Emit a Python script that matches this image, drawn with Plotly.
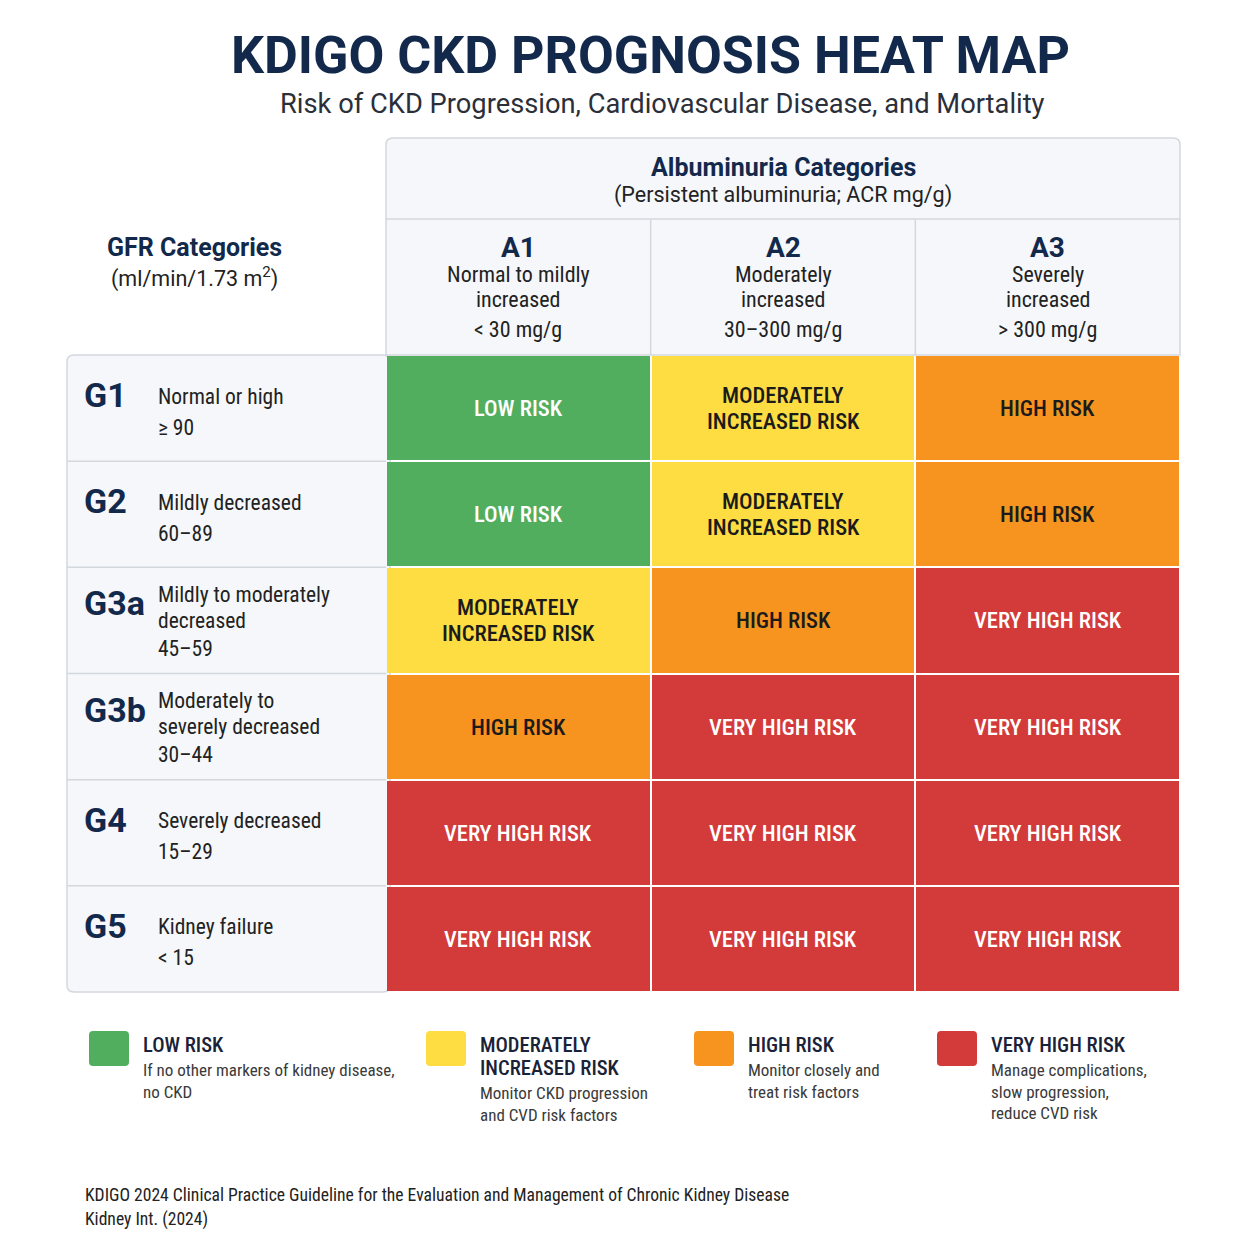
import plotly.graph_objects as go

W = H = 1254

# ---------------- data ----------------
gfr_codes = ["G1", "G2", "G3a", "G3b", "G4", "G5"]
gfr_desc = [
    ["Normal or high", "≥ 90"],
    ["Mildly decreased", "60–89"],
    ["Mildly to moderately", "decreased", "45–59"],
    ["Moderately to", "severely decreased", "30–44"],
    ["Severely decreased", "15–29"],
    ["Kidney failure", "< 15"],
]
alb_codes = ["A1", "A2", "A3"]
alb_desc = [["Normal to mildly", "increased"], ["Moderately", "increased"], ["Severely", "increased"]]
alb_range = ["< 30 mg/g", "30–300 mg/g", "> 300 mg/g"]

risk_levels = ["LOW RISK", "MODERATELY INCREASED RISK", "HIGH RISK", "VERY HIGH RISK"]
risk_label_lines = [["LOW RISK"], ["MODERATELY", "INCREASED RISK"], ["HIGH RISK"], ["VERY HIGH RISK"]]
risk_colors = ["#52AE5F", "#FDDD42", "#F7941F", "#D33B3B"]
risk_text_colors = ["#FFFFFF", "#1B1B1B", "#1B1B1B", "#FFFFFF"]
legend_notes = [
    ["If no other markers of kidney disease,", "no CKD"],
    ["Monitor CKD progression", "and CVD risk factors"],
    ["Monitor closely and", "treat risk factors"],
    ["Manage complications,", "slow progression,", "reduce CVD risk"],
]
risk_matrix = [
    [0, 1, 2],
    [0, 1, 2],
    [1, 2, 3],
    [2, 3, 3],
    [3, 3, 3],
    [3, 3, 3],
]

# ---------------- layout constants (pixels) ----------------
COND = "Roboto Condensed, Roboto, sans-serif"
REG = "Roboto, sans-serif"
NAVY = "#13294B"
DARK = "#222222"
PANEL = "#F5F7FA"
BORDER = "#D3D7DE"

TX0, TX1 = 386, 1180      # grid left/right
TY0, TY1 = 355, 992       # grid top/bottom
HY0, HY1 = 138, 219       # header box top / divider
LX0 = 67                  # left panel left edge


def px(x):
    return x / W


def py(y):
    return 1 - y / H


def rrect_path(x0, y0, x1, y1, r, tl=True, tr=True, br=True, bl=True):
    s = f"M {px(x0 + (r if tl else 0))},{py(y0)} "
    s += f"L {px(x1 - (r if tr else 0))},{py(y0)} "
    if tr:
        s += f"Q {px(x1)},{py(y0)} {px(x1)},{py(y0 + r)} "
    s += f"L {px(x1)},{py(y1 - (r if br else 0))} "
    if br:
        s += f"Q {px(x1)},{py(y1)} {px(x1 - r)},{py(y1)} "
    s += f"L {px(x0 + (r if bl else 0))},{py(y1)} "
    if bl:
        s += f"Q {px(x0)},{py(y1)} {px(x0)},{py(y1 - r)} "
    s += f"L {px(x0)},{py(y0 + (r if tl else 0))} "
    if tl:
        s += f"Q {px(x0)},{py(y0)} {px(x0 + r)},{py(y0)} "
    s += "Z"
    return s


nrows = len(gfr_codes)
ncols = len(alb_codes)
rh = (TY1 - TY0) / nrows
cw = (TX1 - TX0) / ncols

# discrete colorscale
n = len(risk_colors)
cs = []
for i, c in enumerate(risk_colors):
    cs.append([i / n, c])
    cs.append([(i + 1) / n, c])

fig = go.Figure()
fig.add_trace(go.Heatmap(
    z=risk_matrix,
    x=alb_codes,
    y=gfr_codes,
    colorscale=cs,
    zmin=-0.5,
    zmax=n - 0.5,
    showscale=False,
    xgap=2,
    ygap=2,
    hoverinfo="skip",
))

shapes = []
annotations = []

# left panel
shapes.append(dict(type="path", xref="paper", yref="paper",
                   path=rrect_path(LX0, TY0, TX0 + 4, TY1, 7),
                   fillcolor=PANEL, line=dict(color=BORDER, width=1.5), layer="below"))
# header box
shapes.append(dict(type="path", xref="paper", yref="paper",
                   path=rrect_path(TX0, HY0, TX1, TY0, 7, br=False, bl=False),
                   fillcolor=PANEL, line=dict(color=BORDER, width=1.5), layer="below"))
shapes.append(dict(type="line", xref="paper", yref="paper",
                   x0=px(TX0), x1=px(TX1), y0=py(HY1), y1=py(HY1),
                   line=dict(color=BORDER, width=1.5)))
for j in range(1, ncols):
    xx = TX0 + j * cw
    shapes.append(dict(type="line", xref="paper", yref="paper",
                       x0=px(xx), x1=px(xx), y0=py(HY1), y1=py(TY0),
                       line=dict(color=BORDER, width=1.5)))
for i in range(1, nrows):
    yy = TY0 + i * rh
    shapes.append(dict(type="line", xref="paper", yref="paper",
                       x0=px(LX0), x1=px(TX0), y0=py(yy), y1=py(yy),
                       line=dict(color=BORDER, width=1.5)))


def ann(text, x, y, size, color=DARK, weight=400, xanchor="center", yanchor="middle",
        family=COND, align=None):
    annotations.append(dict(text=text, x=px(x), y=py(y), xref="paper", yref="paper",
                            showarrow=False, xanchor=xanchor, yanchor=yanchor,
                            align=align or ("left" if xanchor == "left" else "center"),
                            font=dict(family=family, size=size, color=color, weight=weight)))


# titles
ann("KDIGO CKD PROGNOSIS HEAT MAP", 650, 55, 52, NAVY, 700, family=REG)
ann("Risk of CKD Progression, Cardiovascular Disease, and Mortality", 662, 104, 27.3, "#2B2F3A", family=REG)

# header
ann("Albuminuria Categories", (TX0 + TX1) / 2, 167, 25, NAVY, 700, family=REG)
ann("(Persistent albuminuria; ACR mg/g)", (TX0 + TX1) / 2, 195, 21.5, DARK, family=REG)
for j in range(ncols):
    cx = TX0 + (j + 0.5) * cw
    ann(alb_codes[j], cx, 247, 28, NAVY, 700, family=REG)
    for k, line in enumerate(alb_desc[j]):
        ann(line, cx, 274 + 25 * k, 22, DARK)
    ann(alb_range[j], cx, 329, 22, DARK)

ann("GFR Categories", 194, 248, 25, NAVY, 700, family=REG)
ann("(ml/min/1.73 m<sup>2</sup>)", 194, 277, 21.5, DARK, family=REG)

# row labels
for i in range(nrows):
    c = TY0 + (i + 0.5) * rh
    lines = gfr_desc[i]
    if len(lines) == 2:
        ys = [c - 12, c + 19]
        gy = c - 13
    else:
        ys = [c - 26, c, c + 28]
        gy = c - 17
    ann(gfr_codes[i], 82, gy, 34, NAVY, 700, xanchor="left", family=REG)
    for k, line in enumerate(lines):
        ann(line, 156, ys[k], 21.5, DARK, xanchor="left")

# cell labels (one annotation per text line)
for i in range(nrows):
    for j in range(ncols):
        r = risk_matrix[i][j]
        lines = risk_label_lines[r]
        m = len(lines)
        for k, line in enumerate(lines):
            annotations.append(dict(text=line, x=alb_codes[j], y=gfr_codes[i],
                                    xref="x", yref="y", showarrow=False,
                                    yshift=-(k - (m - 1) / 2) * 26,
                                    font=dict(family=COND, size=22.5, color=risk_text_colors[r], weight=500)))

# legend
sq_x = [89, 426, 694, 937]
for k in range(n):
    x0 = sq_x[k]
    shapes.append(dict(type="path", xref="paper", yref="paper",
                       path=rrect_path(x0, 1031, x0 + 40, 1066, 4),
                       fillcolor=risk_colors[k], line=dict(width=0)))
    tlines = risk_label_lines[k]
    for m, line in enumerate(tlines):
        ann(line, x0 + 52, 1045 + 23 * m, 20.5, "#1A2238", 500, xanchor="left")
    base = 1045 + 23 * (len(tlines) - 1) + 25
    for m, line in enumerate(legend_notes[k]):
        ann(line, x0 + 52, base + 21.5 * m, 17, "#3A3A3A", xanchor="left")

# footnote
ann("KDIGO 2024 Clinical Practice Guideline for the Evaluation and Management of Chronic Kidney Disease",
    83, 1195, 17.6, DARK, xanchor="left")
ann("Kidney Int. (2024)", 83, 1219, 17.6, DARK, xanchor="left")

fig.update_layout(
    width=W, height=H,
    margin=dict(l=0, r=0, t=0, b=0),
    paper_bgcolor="white",
    plot_bgcolor="rgba(0,0,0,0)",
    shapes=shapes,
    annotations=annotations,
    xaxis=dict(domain=[px(TX0), px(TX1)], visible=False, fixedrange=True),
    yaxis=dict(domain=[py(TY1), py(TY0)], visible=False, autorange="reversed", fixedrange=True),
    font=dict(family=COND),
)

fig.write_html("out.html")
